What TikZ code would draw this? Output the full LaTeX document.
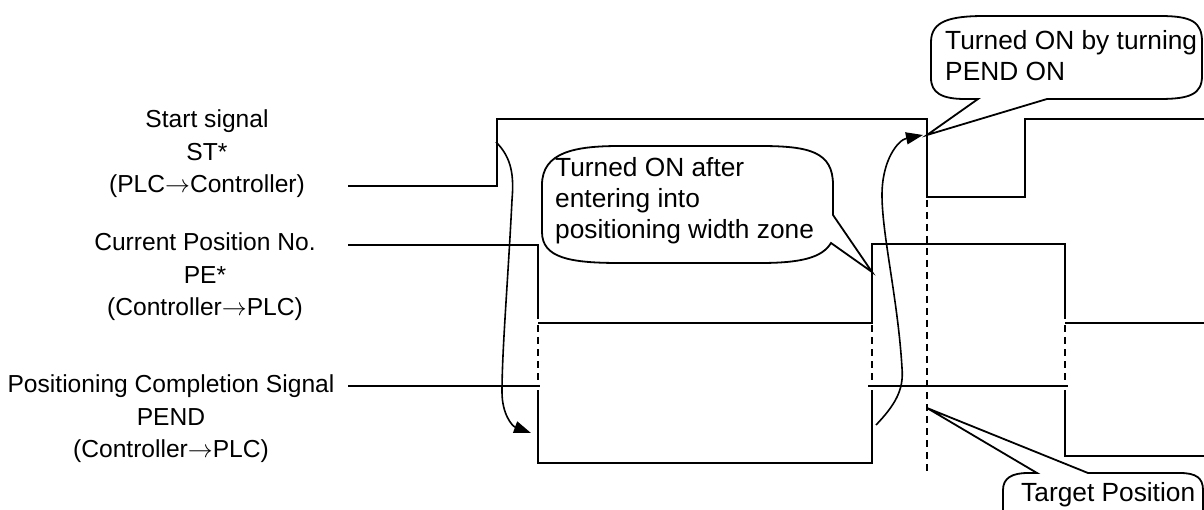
\documentclass[tikz,border=0pt]{standalone}
\usepackage{fontspec}
\setmainfont{Liberation Sans}
\usetikzlibrary{arrows.meta}
\tikzset{
  sig/.style={line width=1.8pt},
  dsh/.style={line width=1.6pt, dash pattern=on 7pt off 5pt},
  callout/.style={line width=1.8pt, line join=miter},
  lbl/.style={font=\fontsize{24.6}{32.5}\selectfont, align=center, inner sep=0pt},
  ctext/.style={font=\fontsize{26.3}{31}\selectfont, align=left, inner sep=0pt, anchor=west},
  arr/.style={line width=1.6pt, -{Triangle[length=17pt,width=12pt]}}
}
\begin{document}
\begin{tikzpicture}[x=1pt,y=-1pt]
\useasboundingbox (0,0) rectangle (1204,510);
\clip (0,0) rectangle (1204,510);

% left labels
\node[lbl] (lst) at (207,154) {Start signal\\ST*\\(PLC$\rightarrow$Controller)};
\node[lbl] (lpe) at (205,277) {Current Position No.\\PE*\\(Controller$\rightarrow$PLC)};
\node[lbl] (lpend) at (171,419) {Positioning Completion Signal\\PEND\\(Controller$\rightarrow$PLC)};

% ST* signal
\draw[sig] (348,186) -- (497,186) -- (497,119) -- (927,119) -- (927,197) -- (1025,197) -- (1025,119) -- (1210,119);
% PE* signal
\draw[sig] (348,245) -- (538,245) -- (538,319);
\draw[sig] (538,323) -- (872,323) -- (872,244) -- (1065,244) -- (1065,319);
\draw[sig] (1065,323) -- (1210,323);
% PEND signal
\draw[sig] (348,386) -- (540,386);
\draw[sig] (538,390) -- (538,463) -- (872,463) -- (872,390);
\draw[sig] (868,386) -- (1068,386);
\draw[sig] (1065,390) -- (1065,456) -- (1210,456);

% dashed transitions
\draw[dsh] (538,325) -- (538,386);
\draw[dsh] (872,325) -- (872,386);
\draw[dsh] (1065,325) -- (1065,386);
\draw[dsh] (927,200) -- (927,475);

% curved arrows
\draw[arr] (496,142) .. controls (512,158) and (514,176) .. (512,200)
  .. controls (508,280) and (502,350) .. (502,392)
  .. controls (502,414) and (512,426) .. (531,433);
\draw[arr] (876,425) .. controls (895,405) and (904,390) .. (902,368)
  .. controls (898,300) and (882,235) .. (882,195)
  .. controls (882,160) and (898,140) .. (923,135);

% callout 2
\draw[callout] (542,185) .. controls (542,152) and (575,146) .. (620,146) -- (760,146)
  .. controls (810,146) and (833,152) .. (833,185) -- (833,215) -- (872,272) -- (831,243)
  .. controls (822,258) and (800,263) .. (760,263) -- (620,263)
  .. controls (570,263) and (542,258) .. (542,232) -- cycle;
\node[ctext] (c2) at (555,201) {Turned ON after\\entering into\\positioning width zone};

% callout 1
\draw[callout] (931,42) .. controls (931,21) and (950,16) .. (985,16) -- (1160,16)
  .. controls (1192,16) and (1202,22) .. (1202,42) -- (1202,76)
  .. controls (1202,94) and (1190,99) .. (1160,99) -- (1047,99) -- (927,135) -- (978,99)
  -- (965,99) .. controls (942,99) and (931,93) .. (931,78) -- cycle;
\node[ctext] (c1) at (945,56) {Turned ON by turning\\PEND ON};

% callout 3
\draw[callout] (1003,520) -- (1003,490) .. controls (1003,478) and (1012,473) .. (1028,473)
  -- (1037,473) -- (927,408) -- (1088,473) -- (1180,473)
  .. controls (1196,473) and (1203,478) .. (1203,490) -- (1203,520);
\node[ctext] (c3) at (1021,495) {Target Position};
\end{tikzpicture}
\end{document}
